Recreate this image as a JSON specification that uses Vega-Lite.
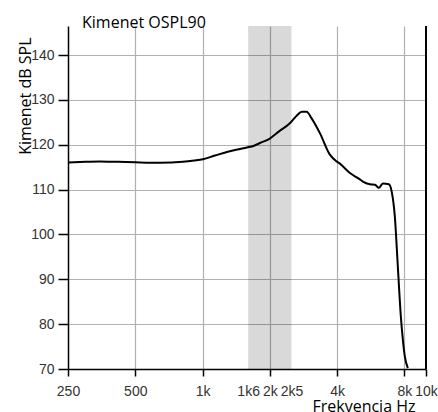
{
  "$schema": "https://vega.github.io/schema/vega-lite/v6.json",
  "width": 358,
  "height": 343,
  "autosize": "none",
  "padding": {"left": 68, "top": 26, "right": 12, "bottom": 43},
  "background": "white",
  "title": {"text": "Kimenet OSPL90", "anchor": "start", "frame": "group", "dx": 14, "dy": 21, "fontSize": 16, "font": "Open Sans", "fontWeight": "normal", "color": "#000", "baseline": "alphabetic", "offset": 2},
  "config": {
    "view": {"stroke": null},
    "axis": {"domainColor": "#000", "domainWidth": 1.5, "tickColor": "#000", "tickWidth": 1.5, "gridColor": "#b0b0b0", "gridWidth": 1.2, "labelColor": "#333", "labelFont": "Liberation Sans", "labelFontSize": 14, "titleFont": "Open Sans", "titleFontSize": 16, "titleFontWeight": "normal", "titleColor": "#000"}
  },
  "datasets": {
    "curve": [
      {"f": 250, "db": 116.05},
      {"f": 300, "db": 116.2},
      {"f": 347, "db": 116.3},
      {"f": 420, "db": 116.2},
      {"f": 500, "db": 116.1},
      {"f": 645, "db": 116.0},
      {"f": 817, "db": 116.2},
      {"f": 920, "db": 116.5},
      {"f": 1004, "db": 116.8},
      {"f": 1136, "db": 117.6},
      {"f": 1286, "db": 118.4},
      {"f": 1450, "db": 119.0},
      {"f": 1580, "db": 119.4},
      {"f": 1700, "db": 119.8},
      {"f": 1806, "db": 120.4},
      {"f": 2000, "db": 121.4},
      {"f": 2200, "db": 123.0},
      {"f": 2460, "db": 124.8},
      {"f": 2650, "db": 126.6},
      {"f": 2776, "db": 127.4},
      {"f": 2922, "db": 127.4},
      {"f": 3077, "db": 125.9},
      {"f": 3351, "db": 122.6},
      {"f": 3714, "db": 117.8},
      {"f": 3980, "db": 116.3},
      {"f": 4118, "db": 115.8},
      {"f": 4565, "db": 113.7},
      {"f": 5060, "db": 112.3},
      {"f": 5218, "db": 111.8},
      {"f": 5606, "db": 111.2},
      {"f": 5905, "db": 111.1},
      {"f": 6153, "db": 110.4},
      {"f": 6412, "db": 111.4},
      {"f": 6820, "db": 111.2},
      {"f": 7033, "db": 109.4},
      {"f": 7254, "db": 104.0},
      {"f": 7480, "db": 92.9},
      {"f": 7717, "db": 81.7},
      {"f": 7879, "db": 76.5},
      {"f": 8039, "db": 72.8},
      {"f": 8293, "db": 70.2}
    ],
    "band": [{"lo": 1600, "hi": 2500}]
  },
  "layer": [
    {
      "data": {"name": "band"},
      "mark": {"type": "rect", "color": "#000", "opacity": 0.15},
      "encoding": {
        "x": {"field": "lo", "type": "quantitative",
          "scale": {"type": "log", "domain": [250, 10000], "nice": false},
          "axis": {
            "values": [250, 500, 1000, 1600, 2000, 2500, 4000, 8000, 10000],
            "labelExpr": "datum.value == 1600 ? '1k6' : datum.value == 2500 ? '2k5' : datum.value >= 1000 ? (datum.value / 1000) + 'k' : '' + datum.value",
            "labelOverlap": false, "labelFlush": false, "labelBound": false,
            "tickSize": 7, "labelPadding": 8,
            "gridOpacity": {"condition": {"test": "datum.value == 1600 || datum.value == 2500 || datum.value == 250 || datum.value == 10000", "value": 0}, "value": 1},
            "tickOpacity": {"condition": {"test": "datum.value == 1600 || datum.value == 2500", "value": 0}, "value": 1},
            "title": "Frekvencia Hz", "titleX": 347, "titleY": 42, "titleAlign": "right", "titleBaseline": "alphabetic", "titleAnchor": null
          }
        },
        "x2": {"field": "hi"}
      }
    },
    {
      "data": {"name": "curve"},
      "mark": {"type": "line", "color": "#000", "strokeWidth": 2, "interpolate": "monotone"},
      "encoding": {
        "x": {"field": "f", "type": "quantitative"},
        "y": {"field": "db", "type": "quantitative",
          "scale": {"domain": [70, 146.5], "nice": false, "zero": false},
          "axis": {
            "values": [70, 80, 90, 100, 110, 120, 130, 140],
            "tickSize": 10, "labelPadding": 4,
            "title": "Kimenet dB SPL", "titleX": -38, "titleY": 11, "titleAlign": "right", "titleAngle": -90, "titleBaseline": "alphabetic", "titleAnchor": null
          }
        }
      }
    },
    {
      "data": {"values": [{"f": 10000}]},
      "mark": {"type": "rule", "color": "#000", "strokeWidth": 2},
      "encoding": {"x": {"field": "f", "type": "quantitative"}}
    }
  ]
}
